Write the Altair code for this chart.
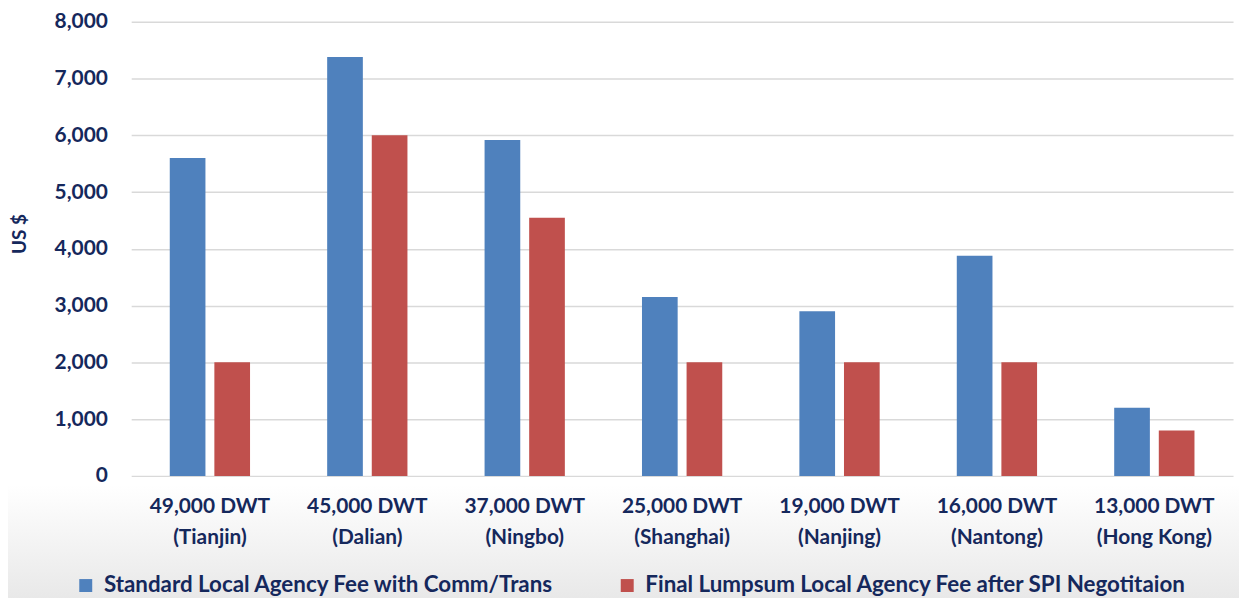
import altair as alt
import pandas as pd

categories = [
    "49,000 DWT|(Tianjin)",
    "45,000 DWT|(Dalian)",
    "37,000 DWT|(Ningbo)",
    "25,000 DWT|(Shanghai)",
    "19,000 DWT|(Nanjing)",
    "16,000 DWT|(Nantong)",
    "13,000 DWT|(Hong Kong)",
]
series = [
    "Standard Local Agency Fee with Comm/Trans",
    "Final Lumpsum Local Agency Fee after SPI Negotitaion",
]
standard_fee = [5600, 7380, 5920, 3150, 2900, 3880, 1200]
final_fee = [2000, 6000, 4550, 2000, 2000, 2000, 800]
y_ticks = [0, 1000, 2000, 3000, 4000, 5000, 6000, 7000, 8000]
colors = ["#4F81BD", "#C0504D"]

rows = []
for c, a, b in zip(categories, standard_fee, final_fee):
    rows.append({"cat": c, "series": series[0], "value": a})
    rows.append({"cat": c, "series": series[1], "value": b})
df = pd.DataFrame(rows)

NAVY = "#15285C"
FONT = "Lato"

bg = alt.Chart(alt.Data(values=[{}])).mark_rect(
    color=alt.Gradient(
        gradient="linear",
        stops=[
            alt.GradientStop(color="#FFFFFF", offset=0),
            alt.GradientStop(color="#E8E8E8", offset=1),
        ],
        x1=0, x2=0, y1=0, y2=1,
    )
).encode(
    x=alt.value(-124), x2=alt.value(1115), y=alt.value(466), y2=alt.value(582)
)

bars = alt.Chart(df).mark_bar().encode(
    x=alt.X(
        "cat:N",
        sort=categories,
        scale=alt.Scale(paddingInner=0.49, paddingOuter=0.245),
        axis=alt.Axis(
            title=None,
            labelExpr="split(datum.label, '|')",
            labelFont=FONT,
            labelFontSize=21,
            labelFontWeight="bold",
            labelColor=NAVY,
            labelPadding=20,
            labelLineHeight=31,
            labelAngle=0,
            ticks=False,
            domain=False,
            zindex=1,
        ),
    ),
    xOffset=alt.XOffset(
        "series:N", sort=series, scale=alt.Scale(paddingInner=0.2, paddingOuter=0)
    ),
    y=alt.Y(
        "value:Q",
        scale=alt.Scale(domain=[0, 8000], nice=False),
        axis=alt.Axis(
            values=y_ticks,
            format=",.0f",
            title="US $",
            titleFont=FONT,
            titleFontSize=19,
            titleFontWeight="bold",
            titleColor=NAVY,
            titleX=-112,
            titleY=213,
            titleBaseline="middle",
            labelFont=FONT,
            labelFontSize=21,
            labelFontWeight="bold",
            labelColor=NAVY,
            labelPadding=24,
            ticks=False,
            domain=False,
            gridColor="#D9D9D9",
            gridWidth=1.5,
        ),
    ),
    color=alt.Color(
        "series:N",
        sort=series,
        scale=alt.Scale(domain=series, range=colors),
        legend=alt.Legend(
            title=None,
            orient="none",
            direction="horizontal",
            legendX=-57,
            legendY=556,
            symbolType="square",
            symbolSize=170,
            symbolStrokeWidth=0,
            labelFont=FONT,
            labelFontSize=22.5,
            labelFontWeight="bold",
            labelColor=NAVY,
            labelOffset=7,
            columnPadding=62,
            labelLimit=800,
        ),
    ),
)

chart = alt.layer(bg, bars).properties(
    width=1109,
    height=457,
    autosize="none",
    padding={"left": 124, "top": 12, "right": 6, "bottom": 121},
    background="white",
).configure_view(stroke=None)

chart.save("out.html", embed_options={"renderer": "svg", "actions": False})
